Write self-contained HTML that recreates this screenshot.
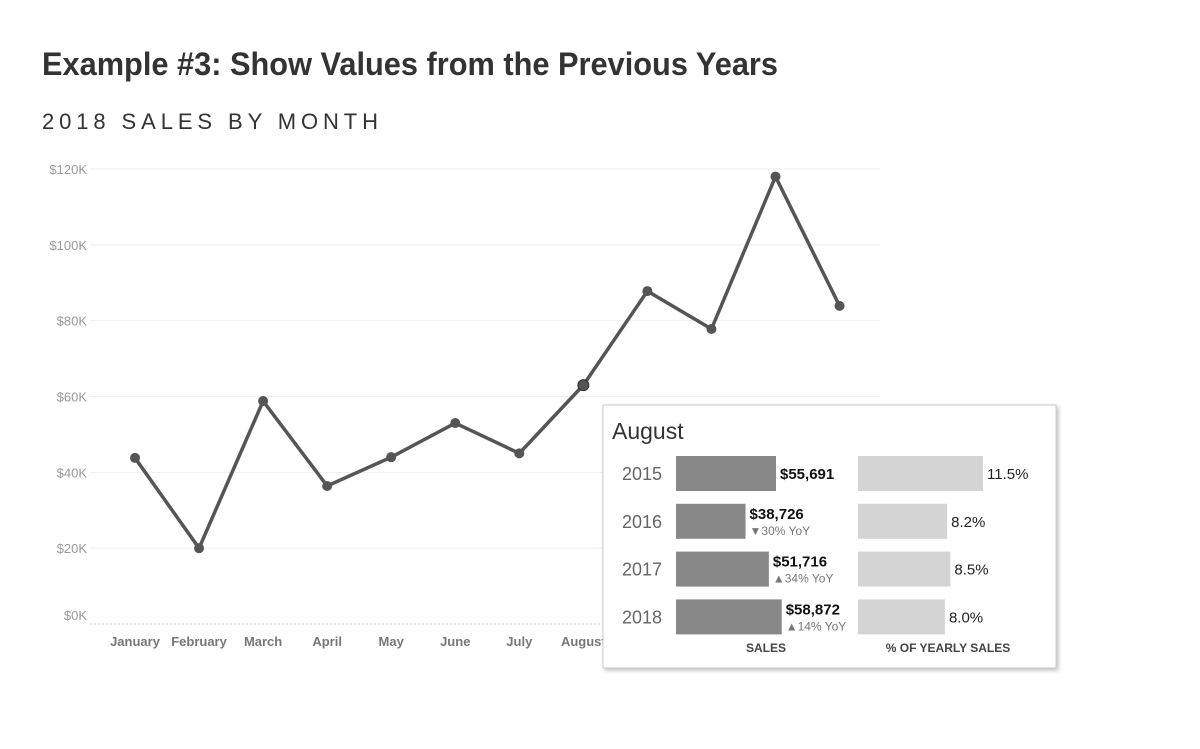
<!DOCTYPE html>
<html><head><meta charset="utf-8"><style>
body{margin:0;background:#fff;}
svg{display:block;font-family:"Liberation Sans",sans-serif;}
</style></head><body>
<svg width="1200" height="749" viewBox="0 0 1200 749">
<defs><filter id="sh" x="-5%" y="-5%" width="115%" height="115%"><feDropShadow dx="2" dy="2" stdDeviation="2" flood-color="#000" flood-opacity="0.25"/></filter></defs>
<text x="42" y="75" font-size="32" font-weight="bold" fill="#333" textLength="736" lengthAdjust="spacingAndGlyphs">Example #3: Show Values from the Previous Years</text>
<text x="42" y="129" font-size="22" fill="#333" textLength="336" lengthAdjust="spacing">2018 SALES BY MONTH</text>
<g id="grid"></g><g id="xl"></g><g id="line"></g>
<g id="tip">
<rect x="603" y="405" width="453" height="263" fill="#fff" stroke="#ccc" filter="url(#sh)"/>
<text x="612" y="439" font-size="23" fill="#333">August</text>
<g id="bars"></g>
<text x="766" y="652" font-size="12" font-weight="bold" fill="#444" text-anchor="middle">SALES</text>
<text x="948" y="652" font-size="12" font-weight="bold" fill="#444" text-anchor="middle">% OF YEARLY SALES</text>
</g>
</svg>
<script>
const months=["January","February","March","April","May","June","July","August","September","October","November","December"];
const sales=[43800,20000,58800,36400,44000,53000,45000,63000,87800,77800,118000,83900];
const yTicks=[0,20000,40000,60000,80000,100000,120000];
const years=["2015","2016","2017","2018"];
const yearSales=[55691,38726,51716,58872];
const yoy=["","▼30% YoY","▲34% YoY","▲14% YoY"];
const pct=[11.5,8.2,8.5,8.0];
const NS="http://www.w3.org/2000/svg";
function mk(t,a,p){const e=document.createElementNS(NS,t);for(const k in a)e.setAttribute(k,a[k]);p.appendChild(e);return e;}
const y=v=>624-v/120000*455, x=i=>135+i*64.05;
const g=document.getElementById('grid');
yTicks.forEach(v=>{
 if(v>0){const l=mk('line',{x1:90,x2:880,y1:y(v),y2:y(v),stroke:'#eee'},g);
 
 }
 const t=mk('text',{x:87,y:v===0?620:y(v)+5,'font-size':13,fill:'#999','text-anchor':'end'},g);
 t.textContent='$'+(v/1000)+'K';
 
 
});
const ax=mk('line',{x1:90,x2:880,y1:624,y2:624,stroke:'#ccc','stroke-dasharray':'2,2'},g);


const xl=document.getElementById('xl');
months.forEach((m,i)=>{const t=mk('text',{x:x(i),y:646,'font-size':13,'font-weight':'bold',fill:'#777','text-anchor':'middle'},xl);
 t.textContent=m;
 
 });
const lg=document.getElementById('line');
const p=mk('polyline',{points:sales.map((v,i)=>x(i)+','+y(v)).join(' '),fill:'none',stroke:'#555','stroke-width':3.5},lg);


sales.forEach((v,i)=>{const c=mk('circle',{cx:x(i),cy:y(v),r:i===7?5.5:5,fill:'#555',stroke:i===7?'#333':'none'},lg);
 
 });
const b=document.getElementById('bars');
years.forEach((yr,i)=>{const ry=456+i*47.8;
 const t=mk('text',{x:622,y:ry+24,'font-size':18,fill:'#666'},b);t.textContent=yr;
 
 
 const w=yearSales[i]/55691*100;
 const r=mk('rect',{x:676,y:ry,width:w,height:35,fill:'#888'},b);
 
 
 const lab=mk('text',{x:676+w+4,y:i===0?ry+23:ry+15,'font-size':15,'font-weight':'bold',fill:'#111'},b);
 lab.textContent='$'+yearSales[i].toLocaleString('en-US');
 
 
 if(yoy[i]){const s=mk('text',{x:676+w+4,y:ry+31,'font-size':12,fill:'#777'},b);s.textContent=yoy[i];
 
 }
 const pw=pct[i]/11.5*125;
 const r2=mk('rect',{x:858,y:ry,width:pw,height:35,fill:'#d4d4d4'},b);
 
 
 const pl=mk('text',{x:858+pw+4,y:ry+23,'font-size':15,fill:'#222'},b);pl.textContent=pct[i].toFixed(1)+'%';
 
 
});
</script>
</body></html>
